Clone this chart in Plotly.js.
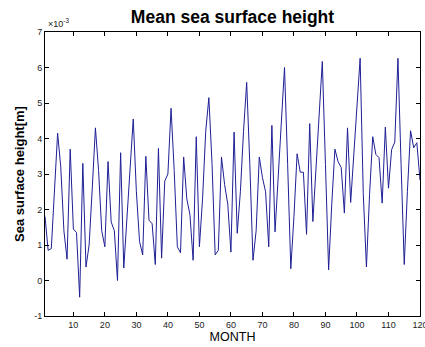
<!DOCTYPE html>
<html>
<head>
<meta charset="utf-8">
<script src="https://cdn.plot.ly/plotly-3.0.1.min.js"></script>
<style>
  html, body { margin: 0; padding: 0; background: #fff; overflow: hidden; }
  #chart { width: 425px; height: 347px; }
</style>
</head>
<body>
<div id="chart"></div>
<script>
// Month index 1..120
const months = Array.from({length: 120}, (_, i) => i + 1);

// Mean sea surface height, in units of 1e-3 m (axis shows "×10^-3")
const sshE3 = [
  1.80, 0.85, 0.90, 2.50, 4.15, 3.20, 1.40, 0.60, 3.70, 1.45,
  1.35, -0.47, 3.30, 0.38, 1.00, 2.60, 4.30, 3.10, 1.40, 0.95,
  3.35, 1.65, 1.40, 0.00, 3.60, 0.35, 1.75, 3.30, 4.55, 2.50,
  1.10, 0.72, 3.50, 1.70, 1.60, 0.45, 3.72, 0.63, 2.80, 3.00,
  4.85, 3.10, 0.95, 0.78, 3.48, 2.30, 1.85, 0.57, 4.05, 0.95,
  2.30, 4.20, 5.15, 3.30, 0.72, 0.85, 3.48, 2.70, 2.15, 0.80,
  4.18, 1.33, 2.50, 4.20, 5.58, 3.27, 0.57, 1.40, 3.48, 2.90,
  2.50, 0.95, 4.37, 1.37, 2.90, 4.60, 6.00, 3.27, 0.33, 1.80,
  3.57, 3.05, 3.05, 1.30, 4.42, 1.66, 3.08, 4.67, 6.17, 3.27,
  0.30, 2.15, 3.70, 3.35, 3.18, 1.90, 4.30, 2.20, 3.60, 4.90,
  6.26, 2.45, 0.38, 2.43, 4.05, 3.55, 3.46, 2.18, 4.32, 2.60,
  3.69, 3.90, 6.26, 3.27, 0.45, 2.50, 4.22, 3.74, 3.88, 2.83
];

const xTicks = [10, 20, 30, 40, 50, 60, 70, 80, 90, 100, 110, 120];
const yTicks = [-1, 0, 1, 2, 3, 4, 5, 6, 7];

const font = 'Liberation Sans, Arial, Helvetica, sans-serif';

const trace = {
  x: months,
  y: sshE3,
  type: 'scatter',
  mode: 'lines',
  line: { color: '#1f1f95', width: 1 },
  hoverinfo: 'x+y'
};

const axisCommon = {
  showline: true,
  linecolor: '#000',
  linewidth: 1,
  mirror: 'allticks',
  ticks: 'inside',
  ticklen: 4,
  tickcolor: '#000',
  showgrid: false,
  zeroline: false,
  automargin: false,
  ticklabeloverflow: 'allow',
  tickfont: { family: font, size: 9, color: '#222' }
};

const layout = {
  width: 425,
  height: 347,
  margin: { l: 45, r: 5, t: 32, b: 31 },
  paper_bgcolor: '#fff',
  plot_bgcolor: '#fff',
  showlegend: false,
  title: {
    text: '<b>Mean sea surface height</b>',
    font: { family: font, size: 17.5, color: '#000' },
    xref: 'paper', x: 0.5, xanchor: 'center',
    yref: 'container', y: 1 - 17 / 347, yanchor: 'middle'
  },
  xaxis: Object.assign({}, axisCommon, {
    range: [1, 120],
    tickmode: 'array',
    tickvals: xTicks,
    ticktext: xTicks.map(String),
    title: { text: 'MONTH', font: { family: font, size: 12.5, color: '#000' }, standoff: 2 }
  }),
  yaxis: Object.assign({}, axisCommon, {
    range: [-1, 7],
    tickmode: 'array',
    tickvals: yTicks,
    ticktext: yTicks.map(String),
    title: { text: '<b>Sea surface height[m]</b>', font: { family: font, size: 13, color: '#000' }, standoff: 6 }
  }),
  annotations: [{
    xref: 'paper', yref: 'paper',
    x: 0, y: 1,
    xanchor: 'left', yanchor: 'bottom',
    xshift: 1, yshift: 1,
    text: '×10<sup>-3</sup>',
    showarrow: false,
    font: { family: font, size: 9, color: '#222' }
  }]
};

Plotly.newPlot('chart', [trace], layout, { displayModeBar: false, staticPlot: true });
</script>
</body>
</html>
